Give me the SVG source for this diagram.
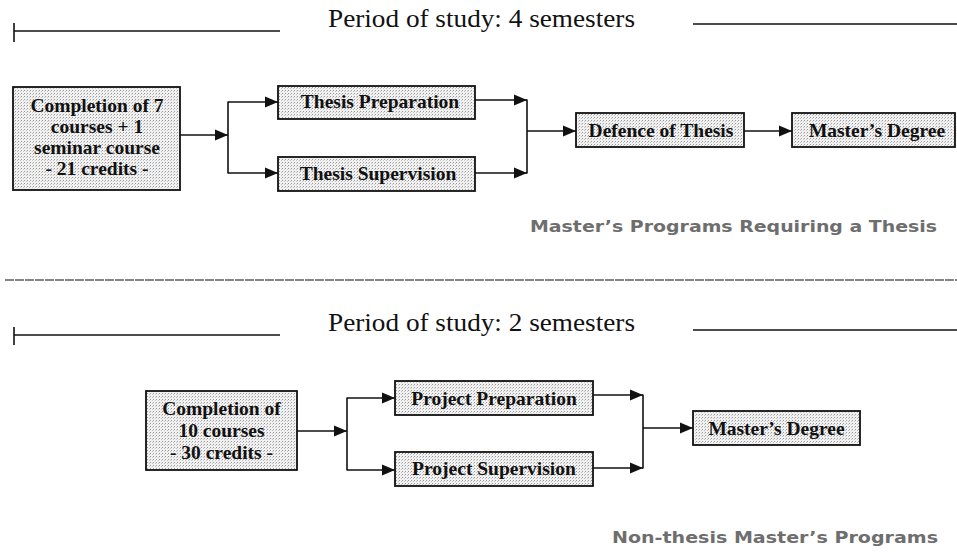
<svg xmlns="http://www.w3.org/2000/svg" width="957" height="552" viewBox="0 0 957 552">
<style>
.bg{fill:#ffffff}
.box{fill:url(#stip);stroke:#111;stroke-width:1.8}
.bt{font-family:"Liberation Serif","Times New Roman",serif;font-weight:bold;font-size:19.5px;fill:#111;text-anchor:middle}
.per{font-family:"Liberation Serif","Times New Roman",serif;font-size:25px;fill:#111}
.cap{font-family:"DejaVu Sans",Verdana,sans-serif;font-weight:bold;font-size:15.5px;fill:#6e6e6e}
.ln{stroke:#111;stroke-width:1.6;fill:none}
.arr{stroke:#111;stroke-width:1.6;fill:none;marker-end:url(#ah)}
.div{stroke:#5e5e5e;stroke-width:1.6;stroke-dasharray:9 1}
</style>
<defs>
<pattern id="stip" width="3" height="3" patternUnits="userSpaceOnUse">
<rect width="3" height="3" fill="#f1f1f1"/>
<rect x="0" y="0" width="1" height="1" fill="#9a9a9a"/>
<rect x="2" y="1" width="1" height="1" fill="#c4c4c4"/>
</pattern>
<marker id="ah" markerUnits="userSpaceOnUse" markerWidth="14" markerHeight="12" refX="13" refY="6" orient="auto">
<path d="M0,0.5 L13,6 L0,11.5 Z" fill="#111"/>
</marker>
</defs>
<rect class="bg" width="957" height="552"/>

<g id="period1">
<line class="ln" x1="14" y1="23" x2="14" y2="42"/>
<line class="ln" x1="14" y1="31" x2="280" y2="31"/>
<text class="per" x="328" y="27" textLength="307" lengthAdjust="spacingAndGlyphs">Period of study: 4 semesters</text>
<line class="ln" x1="693" y1="24" x2="957" y2="24"/>
</g>

<g id="connectors">
<line class="arr" x1="180" y1="135" x2="228" y2="135"/>
<line class="ln" x1="228" y1="101.5" x2="228" y2="173.5"/>
<line class="arr" x1="228" y1="102" x2="278" y2="102"/>
<line class="arr" x1="228" y1="173" x2="278" y2="173"/>
<line class="arr" x1="475" y1="100" x2="527" y2="100"/>
<line class="arr" x1="475" y1="173" x2="527" y2="173"/>
<line class="ln" x1="527" y1="99.5" x2="527" y2="173.5"/>
<line class="arr" x1="527" y1="131" x2="576" y2="131"/>
<line class="arr" x1="744" y1="131" x2="792" y2="131"/>

<line class="arr" x1="297" y1="431" x2="347" y2="431"/>
<line class="ln" x1="347" y1="397.5" x2="347" y2="470.5"/>
<line class="arr" x1="347" y1="398" x2="395" y2="398"/>
<line class="arr" x1="347" y1="470" x2="395" y2="470"/>
<line class="arr" x1="593" y1="395" x2="643" y2="395"/>
<line class="arr" x1="593" y1="468" x2="643" y2="468"/>
<line class="ln" x1="643" y1="394.5" x2="643" y2="468.5"/>
<line class="arr" x1="643" y1="428" x2="693" y2="428"/>
</g>

<g id="completion7">
<rect class="box" x="13" y="87" width="167" height="103"/>
<text class="bt" x="97" y="112">Completion of 7</text>
<text class="bt" x="97" y="133">courses + 1</text>
<text class="bt" x="97" y="154">seminar course</text>
<text class="bt" x="97" y="175">- 21 credits -</text>
</g>
<g id="thesisPrep">
<rect class="box" x="278" y="86" width="197" height="33"/>
<text class="bt" x="380" y="108">Thesis Preparation</text>
</g>
<g id="thesisSup">
<rect class="box" x="278" y="157" width="197" height="34"/>
<text class="bt" x="378" y="180">Thesis Supervision</text>
</g>
<g id="defence">
<rect class="box" x="576" y="113" width="168" height="34"/>
<text class="bt" x="661" y="137">Defence of Thesis</text>
</g>
<g id="masters1">
<rect class="box" x="792" y="113" width="163" height="34"/>
<text class="bt" x="877" y="137">Master’s Degree</text>
</g>
<text class="cap" x="530" y="232" textLength="407" lengthAdjust="spacingAndGlyphs">Master’s Programs Requiring a Thesis</text>

<line class="div" x1="5" y1="280" x2="957" y2="280"/>

<g id="period2">
<line class="ln" x1="14" y1="327" x2="14" y2="345"/>
<line class="ln" x1="14" y1="335" x2="280" y2="335"/>
<text class="per" x="328" y="331" textLength="307" lengthAdjust="spacingAndGlyphs">Period of study: 2 semesters</text>
<line class="ln" x1="693" y1="330" x2="957" y2="330"/>
</g>

<g id="completion10">
<rect class="box" x="146" y="391" width="151" height="79"/>
<text class="bt" x="221.5" y="415">Completion of</text>
<text class="bt" x="221.5" y="437">10 courses</text>
<text class="bt" x="221.5" y="459">- 30 credits -</text>
</g>
<g id="projectPrep">
<rect class="box" x="395" y="381" width="198" height="34"/>
<text class="bt" x="494" y="405">Project Preparation</text>
</g>
<g id="projectSup">
<rect class="box" x="395" y="452" width="198" height="34"/>
<text class="bt" x="494" y="475">Project Supervision</text>
</g>
<g id="masters2">
<rect class="box" x="693" y="411" width="167" height="34"/>
<text class="bt" x="776.5" y="435">Master’s Degree</text>
</g>
<text class="cap" x="612" y="543" textLength="326" lengthAdjust="spacingAndGlyphs">Non-thesis Master’s Programs</text>
</svg>
